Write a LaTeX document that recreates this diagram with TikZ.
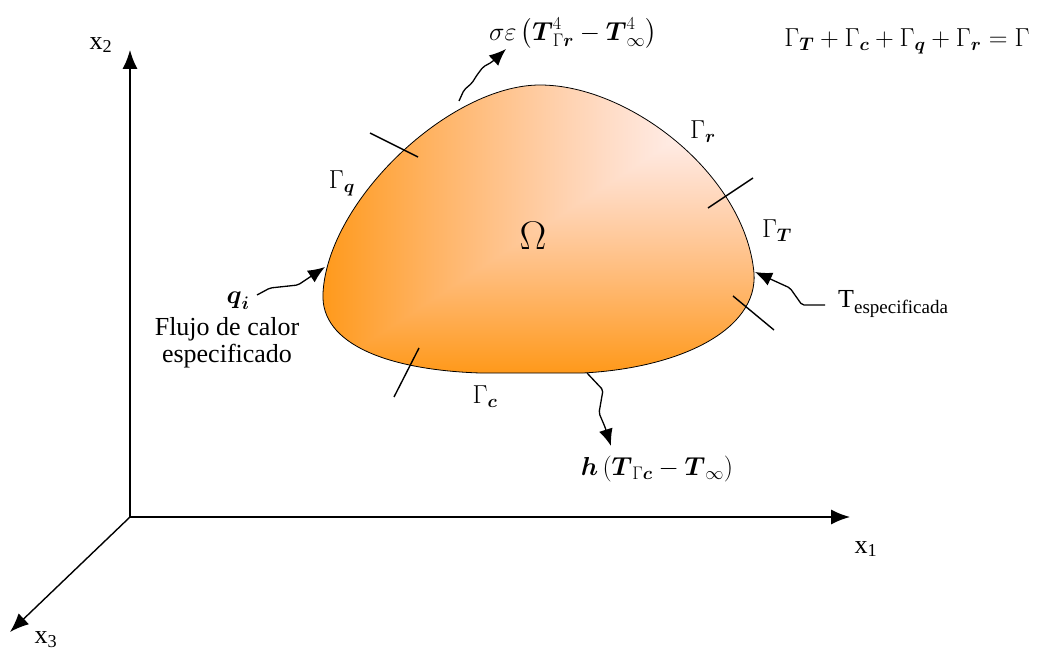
\RequirePackage{fix-cm}
\documentclass[tikz,border=0pt]{standalone}
\usepackage{amsmath}
\usepackage{fontspec}
\setmainfont{Liberation Serif}
\usetikzlibrary{arrows.meta}
% degradado desde la esquina superior derecha
\pgfdeclarefunctionalshading{fromcorner}{\pgfpointorigin}{\pgfpoint{100bp}{100bp}}{}{
  75 exch sub 50 div exch 75 exch sub 50 div
  2 copy lt {exch} if pop
  dup 0 lt {pop 0} if dup 1 gt {pop 1} if
  dup 0.40 mul 1 exch sub
  exch 1.3 exp 0.90 mul 1 exch sub
  1 3 1 roll
}
\begin{document}
\begin{tikzpicture}[x=1pt,y=-1pt,
  axis/.style={line width=1.4pt, -{Latex[length=19pt,width=15pt]}},
  flux/.style={line width=1.3pt, rounded corners=2pt, -{Latex[length=17pt,width=14pt]}},
  cut/.style={line width=1.4pt},
  lbl/.style={font=\fontsize{26}{27}\selectfont, inner sep=0pt}]
\useasboundingbox (0,0) rectangle (1039,652);

% ejes coordenados
\coordinate (o) at (130,517);
\coordinate (e1) at (850,517);
\coordinate (e2) at (130,50);
\coordinate (e3) at (10,632);
\draw[axis] (o) -- (e1);
\draw[axis] (o) -- (e2);
\draw[axis] (o) -- (e3);
\node[lbl] (x1) at (866,549) {x\textsubscript{1}};
\node[lbl] (x2) at (101,45) {x\textsubscript{2}};
\node[lbl] (x3) at (46,640) {x\textsubscript{3}};

% dominio
\shade[draw=black, line width=0.8pt, shading=fromcorner]
  (323,293) .. controls (328,200) and (450,85) .. (540,85)
  .. controls (630,85) and (745,175) .. (754,273)
  .. controls (758,330) and (680,368) .. (583,373)
  -- (480,373)
  .. controls (390,370) and (320,345) .. cycle;
\node[font=\fontsize{40}{40}\selectfont, inner sep=0pt] (om) at (533,236) {$\Omega$};

% divisiones de la frontera
\coordinate (c1a) at (370,133);
\coordinate (c1b) at (418,157);
\coordinate (c2a) at (753,178);
\coordinate (c2b) at (708,208);
\coordinate (c3a) at (733,296);
\coordinate (c3b) at (774,330);
\coordinate (c4a) at (419,348);
\coordinate (c4b) at (394,397);
\draw[cut] (c1a) -- (c1b);
\draw[cut] (c2a) -- (c2b);
\draw[cut] (c3a) -- (c3b);
\draw[cut] (c4a) -- (c4b);

\node[lbl] (gq) at (342,183) {$\Gamma_{\boldsymbol{q}}$};
\node[lbl] (gr) at (703,132) {$\Gamma_{\boldsymbol{r}}$};
\node[lbl] (gt) at (777,231) {$\Gamma_{\boldsymbol{T}}$};
\node[lbl] (gc) at (485,397) {$\Gamma_{\boldsymbol{c}}$};

% flujos
\coordinate (rad0) at (459,101);
\coordinate (rad1) at (506,49);
\draw[flux] (rad0) -- (464,90) -- (472,83) -- (477,75) -- (483,67) -- (492,62) -- (rad1);
\node[lbl] (rad) at (573,33) {$\sigma\varepsilon\left(\boldsymbol{T}_{\Gamma\boldsymbol{r}}^{4}-\boldsymbol{T}_{\infty}^{4}\right)$};

\coordinate (cv0) at (587,373);
\coordinate (cv1) at (611,446);
\draw[flux] (cv0) -- (603,390) -- (599,413) -- (605,427) -- (cv1);
\node[lbl] (cv) at (657,469) {$\boldsymbol{h}\left(\boldsymbol{T}_{\Gamma\boldsymbol{c}}-\boldsymbol{T}_{\infty}\right)$};

\coordinate (qf0) at (257,295);
\coordinate (qf1) at (325,267);
\draw[flux] (qf0) -- (270,288) -- (298,285) -- (qf1);
\node[lbl] (qi) at (238,301) {$\boldsymbol{q}_{\boldsymbol{i}}$};
\node[lbl, align=center] (fl) at (227,343) {Flujo de calor\\especificado};

\coordinate (te0) at (825,305);
\coordinate (te1) at (755,272);
\draw[flux] (te0) -- (802,305) -- (790,288) -- (te1);
\node[lbl, anchor=west] (te) at (838,304) {T\raisebox{-6pt}{\fontsize{19}{20}\selectfont especificada}};

% suma de fronteras
\node[lbl] (sum) at (907,41) {$\Gamma_{\boldsymbol{T}}+\Gamma_{\boldsymbol{c}}+\Gamma_{\boldsymbol{q}}+\Gamma_{\boldsymbol{r}}=\Gamma$};
\end{tikzpicture}
\end{document}
